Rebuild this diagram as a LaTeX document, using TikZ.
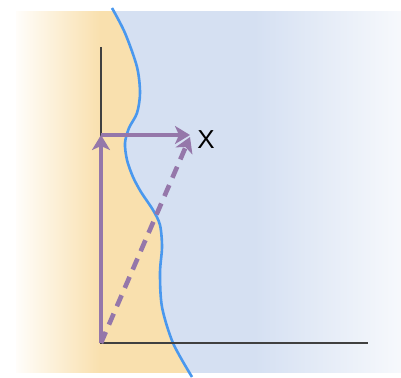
\documentclass[tikz,border=0pt]{standalone}
\usepackage{fontspec}
\setmainfont{Liberation Sans}
\usetikzlibrary{arrows.meta}
\definecolor{warm}{HTML}{F9E0AE}
\definecolor{cool}{HTML}{D5E0F2}
\definecolor{edge}{HTML}{4A98EE}
\definecolor{vec}{HTML}{9577AA}
\colorlet{coolend}{cool!20!white}
\colorlet{warmstart}{warm!6!white}
% the path box covers 25bp..75bp of the shading
\pgfdeclarehorizontalshading{coolfade}{100bp}{color(0bp)=(cool); color(56bp)=(cool); color(75bp)=(coolend); color(100bp)=(coolend)}
\pgfdeclarehorizontalshading{warmfade}{100bp}{color(0bp)=(warmstart); color(25bp)=(warmstart); color(75bp)=(warm); color(100bp)=(warm)}
\tikzset{
  axis/.style={line width=1.1pt,black!75},
  border/.style={line width=2.6pt,edge},
  vecline/.style={line width=4.6pt,vec,-{Stealth[length=15pt,width=18pt,inset=4pt]}},
  vecdash/.style={vecline,dash pattern=on 12pt off 8pt},
  lbl/.style={font=\fontsize{26}{26}\selectfont,inner sep=0pt},
}
\begin{document}
\begin{tikzpicture}[x=1pt,y=-1pt]
    \useasboundingbox (0,0) rectangle (401,377);
    % ------------- background: cool side -------------
    \shade[shading=coolfade] (16,12) rectangle (401,372);
    % ------------- warm side, left of the boundary -------------
    \begin{scope}
      \clip (16,12) rectangle (401,372);
      \fill[warm] (0,0) -- (112,0) -- plot[smooth] coordinates {(112,8) (125,33) (137,67) (140,93)
        (137,113) (129,128) (125,143) (127,160) (133,177) (141,192) (153,210) (160,225)
        (162,247) (160,273) (162,307) (173,343) (192,377)} -- (0,377) -- cycle;
      \shade[shading=warmfade] (16,12) rectangle (100,372);
    \end{scope}
    % boundary curve
    \draw[border] plot[smooth] coordinates {(112,8) (125,33) (137,67) (140,93)
      (137,113) (129,128) (125,143) (127,160) (133,177) (141,192) (153,210) (160,225)
      (162,247) (160,273) (162,307) (173,343) (192,377)};
    % ------------- axes -------------
    \coordinate (O) at (101,343);
    \coordinate (ytop) at (101,47);
    \coordinate (xend) at (368,343);
    \draw[axis] (ytop) -- (O) -- (xend);
    % ------------- vectors -------------
    \coordinate (up) at (101,135);
    \coordinate (tip) at (190,135);
    \node[lbl] (X) at (206,140) {X};
    \draw[vecline] (O) -- (up);
    \draw[vecline] (up) -- (tip);
    \draw[vecdash] (O) -- (190,137);
  \end{tikzpicture}
\end{document}
